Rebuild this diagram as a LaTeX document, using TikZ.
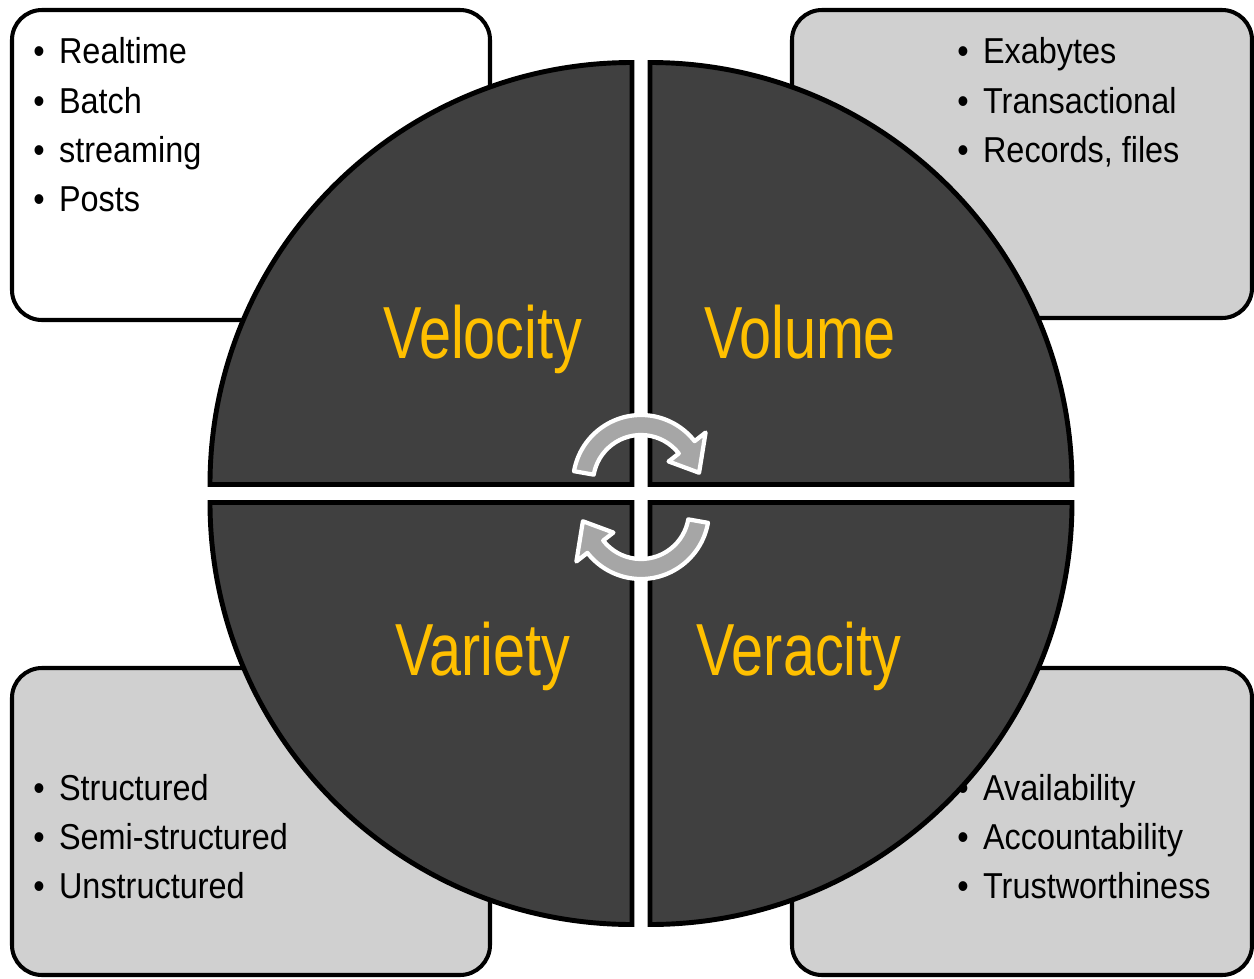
\documentclass[tikz,border=0pt]{standalone}
\usepackage{fontspec}
\setmainfont{Liberation Sans}
\newfontfamily\titlefont[FakeStretch=0.78]{Liberation Sans}
\newfontfamily\itemfont[FakeStretch=0.9]{Liberation Sans}
\definecolor{quadfill}{HTML}{404040}
\definecolor{boxgray}{HTML}{D0D0D0}
\definecolor{vyellow}{HTML}{FFC000}
\definecolor{arrowgray}{HTML}{A6A6A6}

\begin{document}
\begin{tikzpicture}[x=0.02cm, y=0.02cm,
	infobox/.style={draw=black, line width=2.3pt, rounded corners=0.6cm},
	quadrant/.style={fill=quadfill, draw=black, line width=2.8pt},
	vlabel/.style={anchor=base, inner sep=0pt, text=vyellow, font=\titlefont\fontsize{42}{50}\selectfont},
	item/.style={anchor=base west, inner sep=0pt, font=\itemfont\fontsize{20.5}{24}\selectfont},
	cyclearrow/.style={fill=arrowgray, draw=white, line width=2.4pt, line join=round}]
	\useasboundingbox (-641,-484.5) rectangle (613,493.5);
	% boxes behind the circle
	\draw[infobox, fill=white] (-629,173.5) rectangle (-151,483.5);
	\draw[infobox, fill=boxgray] (151,175.5) rectangle (611,483.5);
	\draw[infobox, fill=boxgray] (-629,-481.5) rectangle (-151,-174.5);
	\draw[infobox, fill=boxgray] (151,-481.5) rectangle (611,-174.5);
	\foreach \t [count=\i from 0] in {Realtime, Batch, streaming, Posts}
		\node[item] (velocity-\i) at (-608,{429.5-49*\i}) {\textbullet\hspace{0.4em}\t};
	\foreach \t [count=\i from 0] in {Exabytes, Transactional, {Records, files}}
		\node[item] (volume-\i) at (316,{429.5-49*\i}) {\textbullet\hspace{0.4em}\t};
	\foreach \t [count=\i from 0] in {Structured, Semi-structured, Unstructured}
		\node[item] (variety-\i) at (-608,{-306.5-49*\i}) {\textbullet\hspace{0.4em}\t};
	\foreach \t [count=\i from 0] in {Availability, Accountability, Trustworthiness}
		\node[item] (veracity-\i) at (316,{-306.5-49*\i}) {\textbullet\hspace{0.4em}\t};
	% the four quarters
	\draw[quadrant] (-9,9) -- (-431,9) arc[start angle=180, end angle=90, radius=422] -- cycle;
	\draw[quadrant] (9,9) -- (9,431) arc[start angle=90, end angle=0, radius=422] -- cycle;
	\draw[quadrant] (-9,-9) -- (-9,-431) arc[start angle=270, end angle=180, radius=422] -- cycle;
	\draw[quadrant] (9,-9) -- (431,-9) arc[start angle=0, end angle=-90, radius=422] -- cycle;
	\node[vlabel] (velocity) at (-158,135.5) {Velocity};
	\node[vlabel] (volume) at (159,135.5) {Volume};
	\node[vlabel] (variety) at (-158,-181.5) {Variety};
	\node[vlabel] (veracity) at (158,-181.5) {Veracity};
	% turning arrows in the middle
	\foreach \dy/\rot in {10.5/0, -17.5/180} {
		\begin{scope}[shift={(0,\dy)}, rotate=\rot]
			\filldraw[cyclearrow] (170:68) arc[start angle=170, end angle=38, radius=68] -- (38:82) -- (10:59) -- (38:35) -- (38:48) arc[start angle=38, end angle=170, radius=48] -- cycle;
		\end{scope}
	}
\end{tikzpicture}
\end{document}
